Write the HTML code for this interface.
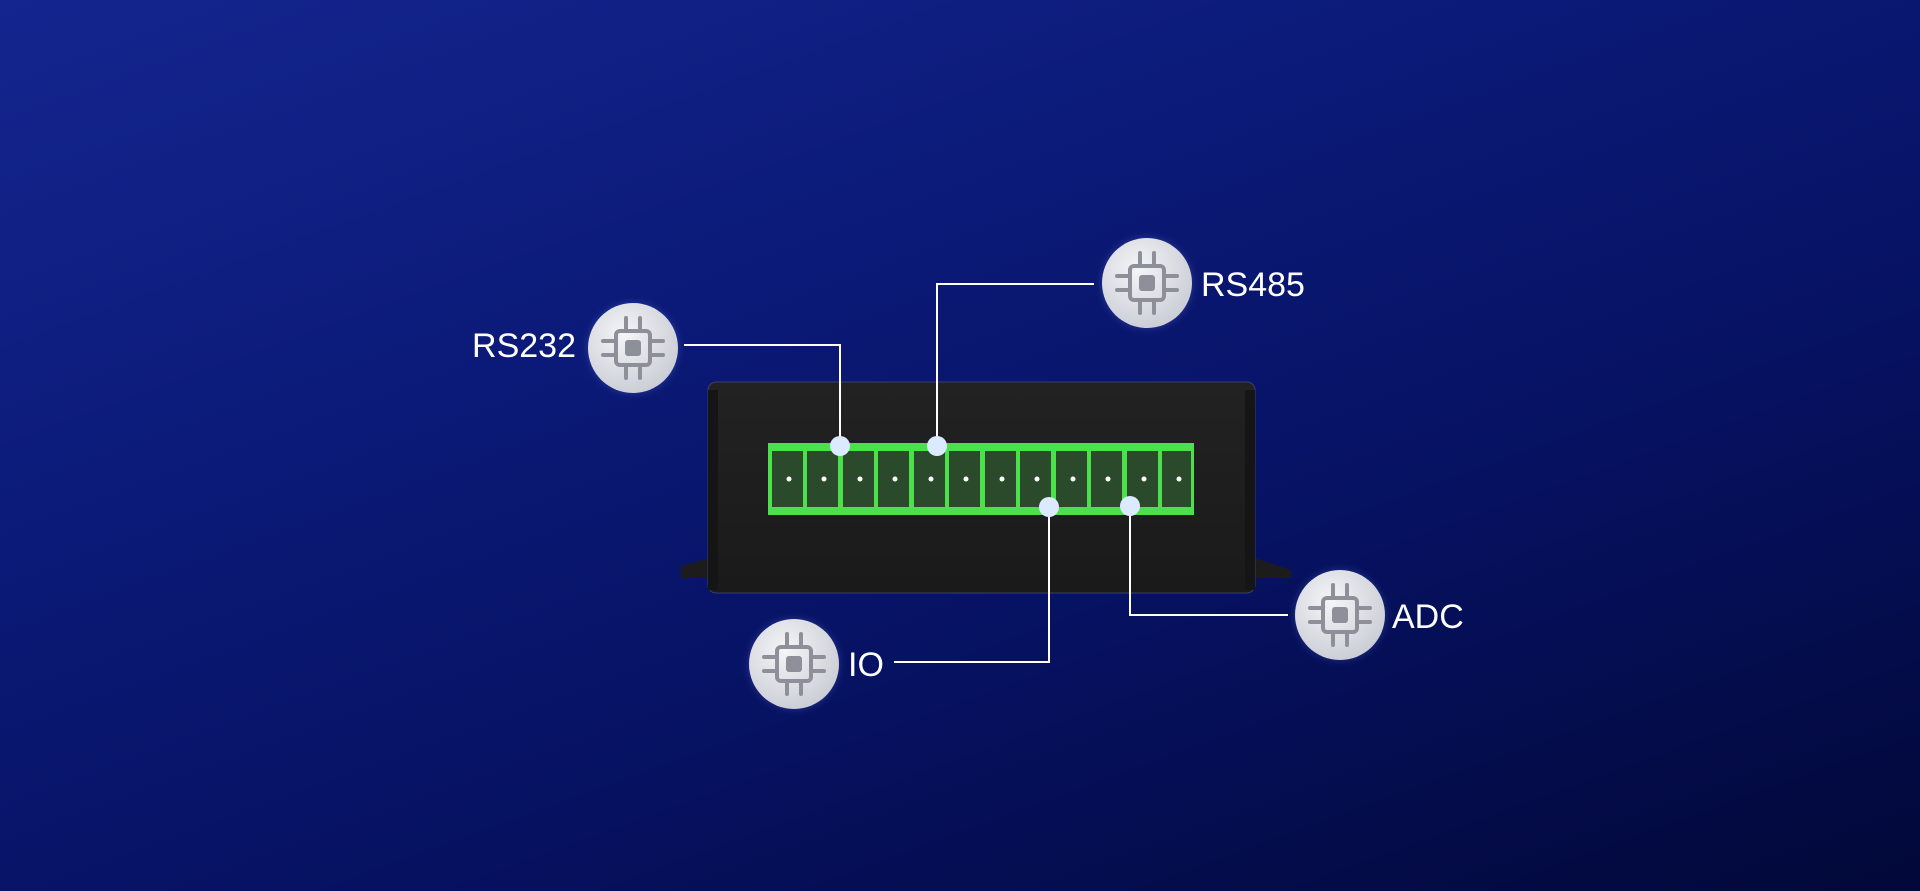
<!DOCTYPE html>
<html><head><meta charset="utf-8"><style>
html,body{margin:0;padding:0;width:1920px;height:891px;overflow:hidden;}
body{background:linear-gradient(160deg,#14258f 0%,#0b1a78 35%,#061160 65%,#020838 100%);}
svg{position:absolute;left:0;top:0;}
text{font-family:"Liberation Sans","DejaVu Sans",sans-serif;fill:#fff;font-size:34px;}
</style></head><body>
<svg width="1920" height="891" viewBox="0 0 1920 891">
<defs>
<radialGradient id="cg" cx="40%" cy="35%" r="70%"><stop offset="0" stop-color="#f4f5f8"/><stop offset="1" stop-color="#c9ccd4"/></radialGradient>
<linearGradient id="bd" x1="0" y1="0" x2="0" y2="1"><stop offset="0" stop-color="#222"/><stop offset="1" stop-color="#1a1a1a"/></linearGradient>
<filter id="gl"><feGaussianBlur stdDeviation="4"/></filter>
<g id="chip">
<circle r="45" fill="#8ea0ff" opacity=".25" filter="url(#gl)"/>
<circle r="45" fill="url(#cg)"/>
<g stroke="#8d9099" stroke-width="4" fill="none" stroke-linecap="round">
<rect x="-17" y="-17" width="34" height="34" rx="4"/>
<line x1="-7" y1="-19" x2="-7" y2="-30"/><line x1="7" y1="-19" x2="7" y2="-30"/>
<line x1="-7" y1="19" x2="-7" y2="30"/><line x1="7" y1="19" x2="7" y2="30"/>
<line x1="-19" y1="-7" x2="-30" y2="-7"/><line x1="-19" y1="7" x2="-30" y2="7"/>
<line x1="19" y1="-7" x2="30" y2="-7"/><line x1="19" y1="7" x2="30" y2="7"/>
</g>
<rect x="-8" y="-8" width="16" height="16" rx="3" fill="#8d9099"/>
</g>
</defs>
<!-- feet -->
<polygon points="681,566 710,558 710,578 681,578" fill="#1c1c1c"/>
<polygon points="1255,558 1291,570 1291,578 1255,578" fill="#1c1c1c"/>
<!-- body -->
<rect x="708" y="382" width="547" height="211" rx="8" fill="url(#bd)" stroke="#3a3f6a" stroke-width="1"/>
<rect x="708" y="390" width="10" height="200" fill="#151515"/>
<rect x="1245" y="390" width="10" height="200" fill="#151515"/>
<!-- connector -->
<rect x="768" y="443" width="426" height="72" fill="#4de04d"/>
<g fill="#2b4a2b">
<rect x="772" y="451" width="31" height="56"/><rect x="807" y="451" width="31" height="56"/><rect x="843" y="451" width="31" height="56"/><rect x="878" y="451" width="31" height="56"/><rect x="914" y="451" width="31" height="56"/><rect x="949" y="451" width="31" height="56"/><rect x="985" y="451" width="31" height="56"/><rect x="1020" y="451" width="31" height="56"/><rect x="1056" y="451" width="31" height="56"/><rect x="1091" y="451" width="31" height="56"/><rect x="1127" y="451" width="31" height="56"/><rect x="1162" y="451" width="29" height="56"/>
</g>
<g fill="#fff">
<circle cx="789" cy="479" r="2.5"/><circle cx="824" cy="479" r="2.5"/><circle cx="860" cy="479" r="2.5"/><circle cx="895" cy="479" r="2.5"/><circle cx="931" cy="479" r="2.5"/><circle cx="966" cy="479" r="2.5"/><circle cx="1002" cy="479" r="2.5"/><circle cx="1037" cy="479" r="2.5"/><circle cx="1073" cy="479" r="2.5"/><circle cx="1108" cy="479" r="2.5"/><circle cx="1144" cy="479" r="2.5"/><circle cx="1179" cy="479" r="2.5"/>
</g>
<!-- lines -->
<g stroke="#fff" stroke-width="2" fill="none">
<polyline points="684,345 840,345 840,446"/>
<polyline points="1094,284 937,284 937,446"/>
<polyline points="894,662 1049,662 1049,507"/>
<polyline points="1288,615 1130,615 1130,506"/>
</g>
<g fill="#dceaff">
<circle cx="840" cy="446" r="10"/><circle cx="937" cy="446" r="10"/><circle cx="1049" cy="507" r="10"/><circle cx="1130" cy="506" r="10"/>
</g>
<use href="#chip" x="633" y="348"/>
<use href="#chip" x="1147" y="283"/>
<use href="#chip" x="794" y="664"/>
<use href="#chip" x="1340" y="615"/>
<text x="576" y="357" text-anchor="end">RS232</text>
<text x="1201" y="296">RS485</text>
<text x="848" y="676">IO</text>
<text x="1392" y="628">ADC</text>
</svg>
</body></html>
